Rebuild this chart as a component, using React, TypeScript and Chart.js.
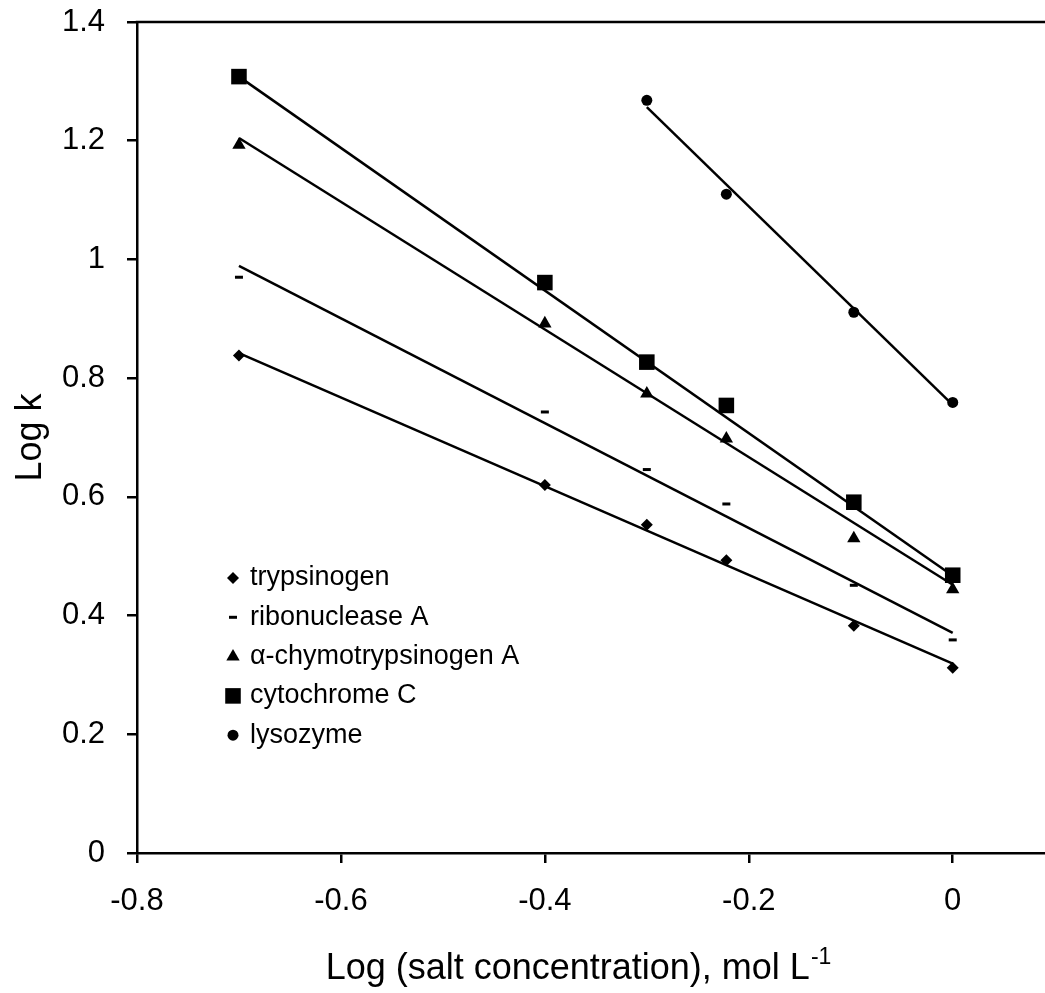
import React, { useEffect, useRef } from 'react';
import { Chart, registerables } from 'chart.js';

Chart.register(...registerables);

// ---- data ----
const xValues = [-0.7, -0.4, -0.3, -0.222, -0.097, 0];
const lysozymeX = [-0.3, -0.222, -0.097, 0];

const trypsinogen = [0.838, 0.62, 0.553, 0.493, 0.383, 0.312];
const ribonucleaseA = [0.97, 0.743, 0.646, 0.588, 0.451, 0.359];
const chymotrypsinogenA = [1.193, 0.892, 0.774, 0.698, 0.53, 0.444];
const cytochromeC = [1.308, 0.961, 0.827, 0.754, 0.591, 0.468];
const lysozyme = [1.268, 1.11, 0.911, 0.759];

// fitted regression lines (end points)
const fitX = [-0.7, 0];
const lysozymeFitX = [-0.3, 0];
const trypsinogenFit = [0.842, 0.319];
const ribonucleaseFit = [0.989, 0.371];
const chymotrypsinogenFit = [1.2045, 0.452];
const cytochromeFit = [1.308, 0.467];
const lysozymeFit = [1.2565, 0.755];

const seriesNames = ['trypsinogen', 'ribonuclease A', 'α-chymotrypsinogen A', 'cytochrome C', 'lysozyme'];
const xTickValues = [-0.8, -0.6, -0.4, -0.2, 0];
const yTickValues = [0, 0.2, 0.4, 0.6, 0.8, 1, 1.2, 1.4];

const xTitle = 'Log (salt concentration), mol L';
const xTitleSup = '-1';
const yTitle = 'Log k';

const FONT = '"Liberation Sans", Arial, Helvetica, sans-serif';

const markerStyles = [
  { style: 'rectRot', radius: 6, borderWidth: 0 },
  { style: 'line', radius: 4, borderWidth: 3 },
  { style: 'triangle', radius: 7.7, borderWidth: 0 },
  { style: 'rect', radius: 11, borderWidth: 0 },
  { style: 'circle', radius: 5.5, borderWidth: 0 },
];

function toPoints(xs: number[], ys: number[]) {
  return xs.map((x, i) => ({ x, y: ys[i] }));
}

function drawMarker(ctx: CanvasRenderingContext2D, style: string, x: number, y: number, r: number, bw: number) {
  ctx.save();
  ctx.fillStyle = '#000';
  ctx.strokeStyle = '#000';
  ctx.beginPath();
  if (style === 'circle') {
    ctx.arc(x, y, r, 0, Math.PI * 2);
    ctx.fill();
  } else if (style === 'rect') {
    const s = r * Math.SQRT1_2;
    ctx.rect(x - s, y - s, 2 * s, 2 * s);
    ctx.fill();
  } else if (style === 'rectRot') {
    ctx.moveTo(x - r, y);
    ctx.lineTo(x, y - r);
    ctx.lineTo(x + r, y);
    ctx.lineTo(x, y + r);
    ctx.closePath();
    ctx.fill();
  } else if (style === 'triangle') {
    ctx.moveTo(x, y - r);
    ctx.lineTo(x + r * 0.866, y + r * 0.5);
    ctx.lineTo(x - r * 0.866, y + r * 0.5);
    ctx.closePath();
    ctx.fill();
  } else if (style === 'line') {
    ctx.lineWidth = bw;
    ctx.moveTo(x - r, y);
    ctx.lineTo(x + r, y);
    ctx.stroke();
  }
  ctx.restore();
}

const decorPlugin = {
  id: 'decor',
  afterDraw(chart: any) {
    const ctx: CanvasRenderingContext2D = chart.ctx;
    const area = chart.chartArea;
    ctx.save();
    // top frame line
    ctx.strokeStyle = '#000';
    ctx.lineWidth = 2.5;
    ctx.beginPath();
    ctx.moveTo(area.left - 1.25, area.top);
    ctx.lineTo(area.right, area.top);
    ctx.stroke();

    // legend
    const legendX = 233;
    const textX = 250;
    const rowY0 = 578;
    const rowStep = 39.3;
    ctx.font = `27px ${FONT}`;
    ctx.fillStyle = '#000';
    ctx.textBaseline = 'middle';
    ctx.textAlign = 'left';
    seriesNames.forEach((name, i) => {
      const y = rowY0 + i * rowStep;
      const m = markerStyles[i];
      drawMarker(ctx, m.style, legendX, y, m.radius, m.borderWidth);
      ctx.fillStyle = '#000';
      ctx.fillText(name, textX, y);
    });

    // y title
    ctx.save();
    ctx.translate(41, (area.top + area.bottom) / 2);
    ctx.rotate(-Math.PI / 2);
    ctx.font = `36px ${FONT}`;
    ctx.textAlign = 'center';
    ctx.textBaseline = 'alphabetic';
    ctx.fillText(yTitle, 0, 0);
    ctx.restore();

    // x title with superscript
    ctx.font = `36px ${FONT}`;
    const wMain = ctx.measureText(xTitle).width;
    ctx.font = `23px ${FONT}`;
    const wSup = ctx.measureText(xTitleSup).width;
    const cx = 578;
    const startX = cx - (wMain + wSup) / 2;
    ctx.textAlign = 'left';
    ctx.textBaseline = 'alphabetic';
    ctx.font = `36px ${FONT}`;
    ctx.fillText(xTitle, startX, 979);
    ctx.font = `23px ${FONT}`;
    ctx.fillText(xTitleSup, startX + wMain + 1, 964);
    ctx.restore();
  },
};

function keepTicks(values: number[]) {
  return (scale: any) => {
    scale.ticks = values.map((v) => ({ value: v }));
  };
}

export default function App() {
  const canvasRef = useRef<HTMLCanvasElement | null>(null);

  useEffect(() => {
    const canvas = canvasRef.current;
    if (!canvas) return;

    const fits = [
      { xs: fitX, ys: trypsinogenFit },
      { xs: fitX, ys: ribonucleaseFit },
      { xs: fitX, ys: chymotrypsinogenFit },
      { xs: fitX, ys: cytochromeFit },
      { xs: lysozymeFitX, ys: lysozymeFit },
    ];
    const series = [
      { xs: xValues, ys: trypsinogen },
      { xs: xValues, ys: ribonucleaseA },
      { xs: xValues, ys: chymotrypsinogenA },
      { xs: xValues, ys: cytochromeC },
      { xs: lysozymeX, ys: lysozyme },
    ];

    const datasets: any[] = [];
    series.forEach((s, i) => {
      const m = markerStyles[i];
      datasets.push({
        type: 'scatter',
        label: seriesNames[i],
        data: toPoints(s.xs, s.ys),
        showLine: false,
        pointStyle: m.style,
        pointRadius: m.radius,
        pointBorderWidth: m.borderWidth,
        pointBackgroundColor: '#000',
        pointBorderColor: '#000',
        order: 0,
      });
    });
    fits.forEach((f, i) => {
      datasets.push({
        type: 'line',
        label: seriesNames[i] + ' fit',
        data: toPoints(f.xs, f.ys),
        showLine: true,
        borderColor: '#000',
        borderWidth: 2.5,
        pointRadius: 0,
        fill: false,
        tension: 0,
        order: 1,
      });
    });

    const tickFont = { family: FONT, size: 31 };

    const chart = new Chart(canvas, {
      type: 'scatter',
      data: { datasets },
      plugins: [decorPlugin],
      options: {
        responsive: false,
        animation: false,
        events: [],
        layout: { autoPadding: false, padding: { top: 22, left: 0, right: 0, bottom: 0 } },
        plugins: {
          legend: { display: false },
          tooltip: { enabled: false },
          title: { display: false },
        },
        scales: {
          x: {
            type: 'linear',
            min: -0.8,
            max: 0.0905,
            afterBuildTicks: keepTicks(xTickValues),
            afterFit: (scale: any) => {
              scale.height = 140;
              scale.paddingLeft = 0;
              scale.paddingRight = 0;
              scale.paddingTop = 0;
              scale.paddingBottom = 0;
            },
            border: { display: true, color: '#000', width: 2.5 },
            grid: {
              display: true,
              drawOnChartArea: false,
              drawTicks: true,
              tickLength: 10,
              color: '#000',
              lineWidth: 2.5,
            },
            ticks: {
              color: '#000',
              font: tickFont,
              padding: 20,
              maxRotation: 0,
              callback: (v: any) => String(Math.round(Number(v) * 10) / 10),
            },
          },
          y: {
            type: 'linear',
            min: 0,
            max: 1.4,
            afterBuildTicks: keepTicks(yTickValues),
            afterFit: (scale: any) => {
              scale.width = 137;
              scale.paddingLeft = 0;
              scale.paddingRight = 0;
              scale.paddingTop = 0;
              scale.paddingBottom = 0;
            },
            border: { display: true, color: '#000', width: 2.5 },
            grid: {
              display: true,
              drawOnChartArea: false,
              drawTicks: true,
              tickLength: 10,
              color: '#000',
              lineWidth: 2.5,
            },
            ticks: {
              color: '#000',
              font: tickFont,
              padding: 22,
              callback: (v: any) => String(Math.round(Number(v) * 10) / 10),
            },
          },
        },
      } as any,
    });

    return () => {
      chart.destroy();
    };
  }, []);

  return (
    <div style={{ position: 'fixed', left: 0, top: 0, width: 1045, height: 993, background: '#fff' }}>
      <canvas ref={canvasRef} width={1045} height={993} style={{ width: 1045, height: 993, display: 'block' }} />
    </div>
  );
}
